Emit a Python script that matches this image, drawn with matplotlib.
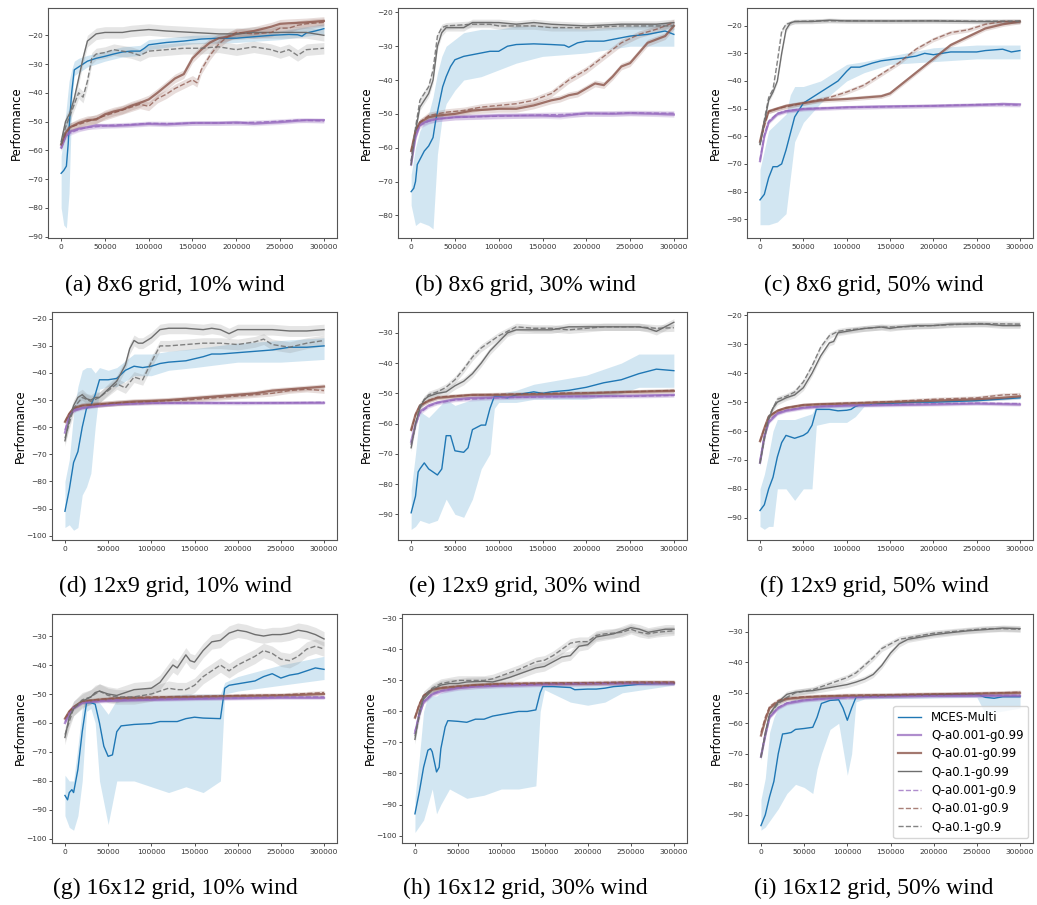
import matplotlib
matplotlib.use("Agg")
import matplotlib.pyplot as plt
from matplotlib.ticker import MultipleLocator

# ---- data: (step, value) pairs ----
# panel (a) 8x6 grid, 10% wind
a_mces = [(0, -68), (3000, -67), (6000, -65.5), (8000, -58), (10000, -48), (12000, -40), (15000, -32),
          (20000, -31), (30000, -29), (40000, -28), (50000, -27.3), (60000, -26.5), (70000, -25.8),
          (80000, -25.5), (90000, -25.5), (95000, -24.5), (100000, -23.3), (120000, -22.5), (140000, -22),
          (160000, -21.3), (180000, -21), (200000, -21), (220000, -20.5), (240000, -20), (260000, -19.7),
          (270000, -19.8), (275000, -20.3), (280000, -19.2), (290000, -18.5), (300000, -17.7)]
a_mces_band = [(0, -80, -62), (3000, -86, -55), (6000, -87, -45), (9000, -75, -36), (12000, -45, -32),
               (15000, -34, -29), (20000, -33, -28), (30000, -31, -27), (50000, -29, -25.5),
               (70000, -27.5, -24), (90000, -27, -23.5), (100000, -25, -21.5), (150000, -23, -20),
               (200000, -22.5, -19.5), (250000, -21.5, -18.5), (300000, -19.5, -16)]
a_q001_99 = [(0, -59), (5000, -55), (10000, -53.5), (20000, -52.5), (30000, -52), (40000, -51.3), (60000, -51.5),
             (80000, -51.2), (100000, -50.8), (120000, -51), (150000, -50.5), (180000, -50.5), (200000, -50.3),
             (220000, -50.7), (250000, -50.2), (270000, -49.7), (280000, -49.5), (300000, -49.5)]
a_q01_99 = [(0, -58), (5000, -54), (10000, -52), (20000, -50.5), (30000, -49.5), (40000, -49.3), (50000, -47.5),
            (60000, -46.5), (70000, -45.8), (80000, -44.5), (90000, -43.5), (100000, -42.3), (110000, -40),
            (120000, -37.5), (130000, -35), (140000, -33.5), (150000, -28), (160000, -25), (170000, -22.5),
            (180000, -21), (190000, -20.5), (200000, -19.5), (220000, -18.5), (240000, -17), (250000, -16),
            (260000, -15.8), (280000, -15.5), (300000, -15)]
a_q1_99 = [(0, -57), (5000, -50), (10000, -47), (15000, -42), (20000, -35), (25000, -28), (30000, -22),
           (40000, -19.5), (50000, -19), (70000, -19), (80000, -18.5), (100000, -18), (120000, -18.5),
           (150000, -19), (180000, -19.5), (200000, -19.5), (220000, -19), (250000, -19), (280000, -19),
           (300000, -20)]
a_q001_9 = [(0, -59.5), (5000, -55.5), (10000, -54), (20000, -52.8), (30000, -52), (40000, -51.8), (60000, -51.2),
            (80000, -51), (100000, -50.6), (130000, -50.7), (160000, -50.5), (200000, -50.5), (240000, -50),
            (270000, -49.5), (300000, -49.8)]
a_q01_9 = [(0, -58), (5000, -54), (10000, -52), (20000, -51), (30000, -50), (40000, -49), (50000, -48),
           (70000, -46), (90000, -44), (100000, -44.7), (110000, -42), (120000, -40.5), (130000, -38.5),
           (140000, -37), (150000, -35.5), (155000, -36.5), (160000, -32), (170000, -27), (180000, -23),
           (190000, -20.5), (200000, -19), (220000, -19.5), (240000, -19), (250000, -17.5), (260000, -17.5),
           (270000, -16.5), (280000, -16), (300000, -15.5)]
a_q1_9 = [(0, -58), (5000, -52), (10000, -48), (15000, -44), (20000, -40), (25000, -41.5), (30000, -36),
          (35000, -28), (40000, -26.5), (50000, -26), (60000, -25), (70000, -25.5), (80000, -26), (90000, -27),
          (100000, -25.5), (120000, -25), (140000, -24.5), (160000, -24.5), (180000, -24), (200000, -25),
          (220000, -24), (240000, -25), (250000, -26), (260000, -25), (270000, -27), (280000, -25),
          (300000, -24.5)]

# panel (b) 8x6 grid, 30% wind
b_mces = [(0, -73), (3000, -72), (5000, -70), (7000, -65), (10000, -63.5), (15000, -61), (20000, -59.5),
          (25000, -57), (28000, -52), (32000, -47), (36000, -42), (40000, -39), (45000, -36), (50000, -34),
          (60000, -33), (70000, -32.5), (80000, -32), (90000, -31.5), (100000, -31.5), (110000, -30),
          (120000, -29.5), (140000, -29.3), (160000, -29.5), (175000, -29.7), (180000, -30.3), (190000, -29),
          (200000, -28.5), (220000, -28.5), (240000, -27.5), (250000, -27), (270000, -26.5), (280000, -26),
          (290000, -25.5), (300000, -26.5)]
b_mces_band = [(0, -77, -68), (5000, -83, -60), (10000, -82, -55), (20000, -83, -50), (25000, -84, -45),
               (30000, -62, -38), (35000, -52, -33), (40000, -47, -30), (50000, -43, -28), (60000, -40, -26),
               (80000, -39, -25), (100000, -37, -25), (120000, -35, -24), (150000, -33, -24),
               (200000, -32, -25), (250000, -30, -24), (300000, -30, -23)]
b_q001_99 = [(0, -65), (3000, -60), (5000, -57), (10000, -53), (20000, -52), (30000, -51.5), (50000, -51),
             (70000, -50.8), (100000, -50.5), (150000, -50.5), (170000, -50.7), (200000, -49.8), (230000, -50),
             (250000, -49.8), (280000, -50), (300000, -50.2)]
b_q01_99 = [(0, -61), (5000, -55), (10000, -52.5), (20000, -51), (30000, -50.5), (50000, -50), (70000, -49),
            (100000, -48.5), (120000, -48.5), (140000, -47.5), (160000, -46), (170000, -45.5), (180000, -44.5),
            (190000, -44), (200000, -42.5), (210000, -41), (220000, -41.5), (230000, -39), (240000, -36),
            (250000, -35), (260000, -32), (270000, -29), (280000, -28), (290000, -27), (300000, -24)]
b_q1_99 = [(0, -65), (5000, -55), (10000, -48), (15000, -46), (20000, -44), (25000, -40), (30000, -30),
           (35000, -26), (40000, -24.5), (60000, -24.5), (70000, -23), (100000, -23), (120000, -23.5),
           (140000, -23), (160000, -23.5), (200000, -24), (240000, -23.5), (280000, -23.5), (300000, -23)]
b_q001_9 = [(0, -64), (5000, -56), (10000, -53.5), (20000, -52.2), (30000, -51.5), (50000, -51), (100000, -50.7),
            (150000, -50.3), (200000, -50), (250000, -49.7), (300000, -49.8)]
b_q01_9 = [(0, -61), (5000, -55), (10000, -52.5), (20000, -50.5), (40000, -49.5), (60000, -49), (80000, -48),
           (100000, -47.5), (120000, -47), (140000, -46), (160000, -44), (180000, -40), (200000, -37),
           (220000, -33), (240000, -29), (260000, -26.5), (280000, -25), (300000, -23)]
b_q1_9 = [(0, -64), (5000, -54), (10000, -46), (20000, -42), (25000, -37), (30000, -27), (35000, -24.5),
          (40000, -24), (70000, -23.5), (90000, -23.5), (100000, -24), (140000, -24), (160000, -24.5),
          (200000, -24.5), (240000, -24), (300000, -24)]

# panel (c) 8x6 grid, 50% wind
c_mces = [(0, -83), (5000, -81), (10000, -75), (15000, -71), (20000, -71), (25000, -70), (30000, -65),
          (35000, -59), (40000, -53), (50000, -48), (60000, -46), (70000, -44), (80000, -42), (90000, -40),
          (100000, -36.5), (105000, -35), (115000, -35), (130000, -33.5), (140000, -32.7), (150000, -32.3),
          (170000, -31.5), (180000, -31), (190000, -30), (200000, -30.5), (220000, -29.5), (250000, -29.5),
          (260000, -29), (280000, -28.5), (290000, -29.5), (300000, -29)]
c_mces_band = [(0, -92, -72), (10000, -92, -58), (20000, -91, -55), (30000, -88, -52), (35000, -75, -45),
               (40000, -62, -42), (50000, -55, -42), (70000, -48, -40), (100000, -40, -34), (120000, -37, -33),
               (150000, -34, -31), (200000, -33, -28), (250000, -32, -27), (300000, -32, -27)]
c_q001_99 = [(0, -69), (5000, -60), (10000, -55), (20000, -52), (30000, -51), (50000, -50.2), (80000, -49.8),
             (100000, -49.5), (150000, -49.2), (200000, -49), (250000, -48.7), (280000, -48.3), (300000, -48.5)]
c_q01_99 = [(0, -62), (5000, -55), (10000, -51), (20000, -50), (30000, -49), (50000, -48), (70000, -47),
            (100000, -46.5), (120000, -46), (140000, -45.5), (150000, -44.5), (160000, -42), (170000, -39.5),
            (180000, -37), (190000, -34.5), (200000, -32), (210000, -29.5), (220000, -27), (240000, -24),
            (260000, -21), (280000, -19.5), (300000, -18.5)]
c_q1_99 = [(0, -63), (5000, -55), (10000, -47), (15000, -44), (20000, -40), (25000, -30), (30000, -21.5),
           (35000, -19), (40000, -18.5), (60000, -18.5), (80000, -18), (100000, -18.3), (150000, -18.3),
           (200000, -18.3), (250000, -18.5), (300000, -18.5)]
c_q001_9 = [(0, -68.5), (5000, -59.5), (10000, -54.5), (20000, -51.7), (30000, -50.8), (50000, -50),
            (100000, -49.6), (150000, -49.3), (200000, -49), (250000, -48.5), (300000, -48.7)]
c_q01_9 = [(0, -62), (10000, -51), (20000, -50), (50000, -48), (80000, -46), (100000, -44), (120000, -41.5),
           (140000, -37.5), (160000, -33.5), (180000, -28.5), (200000, -25), (220000, -22.5), (240000, -21.5),
           (260000, -19.5), (280000, -18.5), (300000, -18.5)]
c_q1_9 = [(0, -63), (5000, -54), (10000, -46), (15000, -43), (20000, -33), (25000, -22), (30000, -19.5),
          (40000, -18.5), (60000, -18.3), (100000, -18.2), (150000, -18.3), (200000, -18.2), (250000, -18.4),
          (300000, -18.3)]

# panel (d) 12x9 grid, 10% wind
d_mces = [(0, -91), (5000, -83), (10000, -73), (15000, -69), (20000, -60), (25000, -53), (30000, -52),
          (35000, -48), (40000, -42.5), (50000, -42.5), (60000, -42), (70000, -39), (80000, -37.5),
          (90000, -38), (100000, -37.5), (110000, -36.5), (120000, -36), (140000, -35.5), (160000, -34),
          (170000, -33), (180000, -33), (200000, -32.5), (220000, -32), (240000, -31.5), (260000, -30.5),
          (280000, -30.5), (300000, -30)]
d_mces_band = [(0, -97, -80), (5000, -96, -72), (10000, -98, -55), (15000, -97, -45), (20000, -85, -39),
               (25000, -82, -38), (30000, -77, -38), (35000, -60, -40), (40000, -46, -38), (50000, -45, -39),
               (60000, -45, -38), (80000, -41, -33), (100000, -41, -33), (120000, -39, -32), (150000, -38, -31),
               (200000, -36, -29), (250000, -36, -28), (300000, -35, -27)]
d_q001_99 = [(0, -62), (5000, -56), (10000, -54), (20000, -53), (40000, -52), (60000, -51.5), (100000, -51),
             (150000, -51), (200000, -51), (250000, -51), (300000, -51)]
d_q01_99 = [(0, -58), (5000, -55), (10000, -53), (20000, -52), (40000, -51.5), (60000, -51), (80000, -50.5),
            (100000, -50.3), (120000, -50), (140000, -49.5), (160000, -49), (180000, -48.5), (200000, -48),
            (220000, -47.5), (240000, -46.5), (260000, -46), (280000, -45.5), (300000, -45)]
d_q1_99 = [(0, -65), (5000, -57), (10000, -52), (15000, -49), (20000, -48), (25000, -49.5), (30000, -50),
           (35000, -49), (40000, -49), (50000, -46), (60000, -43), (70000, -37), (75000, -31), (80000, -28),
           (85000, -29), (90000, -29), (100000, -27), (110000, -24), (120000, -23.5), (140000, -23.5),
           (160000, -24), (170000, -23.5), (180000, -24), (190000, -25.5), (200000, -24), (220000, -24),
           (240000, -24), (260000, -24.5), (280000, -24.5), (300000, -24)]
d_q001_9 = [(0, -61), (5000, -55.5), (10000, -53.5), (20000, -52.7), (40000, -52), (60000, -51.5),
            (100000, -51.2), (150000, -51), (200000, -51.2), (250000, -51), (300000, -50.8)]
d_q01_9 = [(0, -58), (5000, -55), (10000, -53), (20000, -52), (40000, -51.5), (60000, -51), (80000, -50.7),
           (100000, -50.5), (120000, -50.2), (140000, -50), (160000, -49.5), (180000, -49), (200000, -48.5),
           (220000, -48), (240000, -47.5), (260000, -46.5), (280000, -46), (300000, -46.5)]
d_q1_9 = [(0, -64), (10000, -53), (20000, -49), (30000, -50.5), (40000, -49), (50000, -46.5), (60000, -44),
          (70000, -45.5), (80000, -41.5), (90000, -42.5), (100000, -36), (110000, -30), (120000, -30),
          (140000, -29.5), (160000, -29), (180000, -29), (200000, -29.5), (220000, -28.5), (230000, -27.5),
          (240000, -29.5), (260000, -30.5), (280000, -29), (300000, -28)]

# panel (e) 12x9 grid, 30% wind
e_mces = [(0, -89.5), (5000, -84), (8000, -76), (10000, -75), (15000, -73), (20000, -75), (25000, -76),
          (30000, -77), (35000, -75), (40000, -64), (45000, -64), (50000, -69), (60000, -69.5), (65000, -68),
          (70000, -62), (80000, -60.5), (85000, -60.5), (90000, -55), (95000, -51), (100000, -51),
          (110000, -51.5), (120000, -50.5), (130000, -50), (140000, -49.5), (150000, -50), (160000, -49.5),
          (180000, -49), (200000, -48), (220000, -46.5), (240000, -45.5), (250000, -44.5), (260000, -43.5),
          (280000, -42), (300000, -42.5)]
e_mces_band = [(0, -95, -82), (5000, -94, -70), (10000, -92, -56), (20000, -93, -58), (30000, -92, -55),
               (40000, -85, -52), (50000, -90, -54), (60000, -91, -53), (70000, -85, -52), (80000, -75, -51),
               (90000, -70, -51), (95000, -55, -50), (100000, -53, -50), (120000, -53, -49), (140000, -52, -47),
               (160000, -52, -46), (200000, -52, -44), (240000, -50, -40), (260000, -48, -37),
               (300000, -48, -37)]
e_q001_99 = [(0, -66), (5000, -60), (10000, -56), (20000, -54), (30000, -53), (50000, -52), (70000, -51.5),
             (100000, -51.3), (150000, -51), (200000, -51), (250000, -50.8), (300000, -50.5)]
e_q01_99 = [(0, -62), (5000, -57), (10000, -54), (20000, -52.5), (30000, -51.5), (50000, -51), (70000, -50.5),
            (100000, -50.5), (150000, -50.3), (200000, -50), (250000, -49.5), (300000, -49.2)]
e_q1_99 = [(0, -68), (5000, -60), (10000, -55), (15000, -52), (20000, -51), (30000, -50), (40000, -49.5),
           (50000, -47.5), (60000, -46), (70000, -43.5), (80000, -40), (90000, -36), (100000, -33),
           (110000, -30), (120000, -29), (140000, -29), (160000, -29), (180000, -28), (200000, -28),
           (220000, -28), (240000, -28), (260000, -28), (270000, -28.5), (280000, -29.5), (290000, -28),
           (300000, -26.5)]
e_q001_9 = [(0, -67), (5000, -60.5), (10000, -56.5), (20000, -54.3), (30000, -53.2), (50000, -52.2),
            (100000, -51.5), (150000, -51.2), (200000, -51), (250000, -51), (300000, -50.7)]
e_q01_9 = [(0, -62.5), (5000, -57), (10000, -54), (20000, -52.3), (30000, -51.3), (50000, -50.8),
           (100000, -50.3), (150000, -50), (200000, -49.8), (250000, -49.5), (300000, -49)]
e_q1_9 = [(0, -67), (10000, -54), (20000, -50.5), (30000, -49.5), (40000, -48), (50000, -45.5), (60000, -42),
          (70000, -38), (80000, -35), (90000, -33), (100000, -31), (110000, -29.5), (120000, -28),
          (140000, -28.5), (160000, -28.5), (180000, -29), (200000, -28.5), (220000, -28), (240000, -28),
          (260000, -28), (280000, -28.5), (300000, -28.3)]

# panel (f) 12x9 grid, 50% wind
f_mces = [(0, -87.5), (5000, -85.5), (10000, -80), (15000, -76), (20000, -69), (25000, -64), (30000, -61.5),
          (40000, -62.5), (50000, -61.5), (55000, -60.5), (60000, -58), (65000, -52.5), (70000, -52.5),
          (80000, -52.5), (90000, -53), (100000, -52.8), (105000, -52.5), (110000, -51.5), (115000, -51),
          (120000, -51), (140000, -50.5), (160000, -50.3), (180000, -50), (200000, -50), (250000, -49.5),
          (300000, -48.5)]
f_mces_band = [(0, -93, -80), (5000, -94, -75), (10000, -93, -68), (15000, -93, -60), (20000, -80, -56),
               (30000, -80, -56), (40000, -84, -56), (50000, -80, -55), (60000, -80, -54), (65000, -58, -51),
               (80000, -57, -51), (100000, -57, -51), (110000, -55, -50.5), (120000, -51.5, -50.5),
               (300000, -49, -48)]
f_q001_99 = [(0, -71), (5000, -62), (10000, -57), (20000, -54), (30000, -53), (50000, -52), (70000, -51.5),
             (100000, -51.2), (150000, -51), (200000, -50.8), (250000, -50.5), (300000, -50.8)]
f_q01_99 = [(0, -63.5), (5000, -59), (10000, -55), (20000, -53), (30000, -52), (50000, -51), (70000, -50.7),
            (100000, -50.5), (150000, -50), (200000, -49.5), (250000, -49), (280000, -48.5), (300000, -48)]
f_q1_99 = [(0, -71), (5000, -62), (10000, -56), (15000, -52), (20000, -50), (30000, -48.5), (40000, -47.5),
           (50000, -45), (60000, -40), (70000, -34), (80000, -29.5), (85000, -29), (90000, -26),
           (100000, -25.5), (120000, -24.5), (140000, -24), (150000, -24.5), (160000, -24), (180000, -23.5),
           (200000, -23.5), (220000, -23), (240000, -23), (260000, -23), (280000, -23.5), (300000, -23.5)]
f_q001_9 = [(0, -70), (5000, -61.5), (10000, -56.5), (20000, -53.7), (30000, -52.8), (50000, -51.8),
            (100000, -51), (150000, -50.8), (200000, -50.5), (250000, -50.3), (300000, -50.5)]
f_q01_9 = [(0, -63.5), (5000, -59), (10000, -55), (20000, -53), (30000, -52), (50000, -51), (100000, -50.3),
           (150000, -49.8), (200000, -49), (250000, -48.5), (280000, -47.5), (300000, -47.3)]
f_q1_9 = [(0, -71), (10000, -55), (20000, -49), (30000, -48), (40000, -46.5), (50000, -43), (60000, -37.5),
          (70000, -31), (80000, -27), (90000, -25.5), (100000, -25), (120000, -24.5), (140000, -24),
          (160000, -24), (200000, -23.5), (250000, -22.8), (300000, -23)]

# panel (g) 16x12 grid, 10% wind
g_mces = [(0, -85), (3000, -86.5), (5000, -84), (8000, -83), (10000, -84), (15000, -76), (20000, -63),
          (25000, -53), (30000, -53), (35000, -53.5), (40000, -60), (45000, -68), (50000, -71.5),
          (55000, -71), (60000, -63), (65000, -61), (80000, -60.5), (100000, -60.2), (110000, -59.5),
          (130000, -59.5), (140000, -58.5), (150000, -58), (160000, -58.3), (180000, -58.5), (185000, -48),
          (190000, -47), (200000, -46.5), (210000, -46), (220000, -45.5), (230000, -44), (240000, -43),
          (250000, -44.5), (260000, -43.5), (270000, -43), (280000, -42), (290000, -41), (300000, -41.5)]
g_mces_band = [(0, -92, -78), (5000, -96, -80), (10000, -97, -80), (15000, -92, -68), (20000, -80, -55),
               (25000, -56, -51), (30000, -55, -51.5), (35000, -60, -52), (40000, -80, -53),
               (50000, -95, -57), (60000, -80, -52), (80000, -80, -51), (100000, -82, -51),
               (120000, -84, -50.5), (140000, -82, -50), (160000, -84, -50), (180000, -80, -50),
               (185000, -50, -46), (200000, -49, -44), (250000, -47, -40), (300000, -45, -37)]
g_q001_99 = [(0, -60), (5000, -57), (10000, -55), (20000, -53), (40000, -52.5), (60000, -52.3),
             (100000, -52), (150000, -51.7), (200000, -51.5), (250000, -51.3), (300000, -51.3)]
g_q01_99 = [(0, -58.5), (5000, -56), (10000, -54.5), (20000, -52.5), (40000, -52), (60000, -51.5),
            (100000, -51.3), (150000, -51), (200000, -50.7), (250000, -50.5), (300000, -50)]
g_q1_99 = [(0, -65), (5000, -58), (10000, -55), (20000, -52.5), (30000, -51), (35000, -49.5), (40000, -49),
           (50000, -50), (60000, -50.5), (70000, -49.5), (80000, -48.5), (100000, -48), (110000, -46),
           (120000, -42), (125000, -40), (130000, -41), (140000, -36.5), (145000, -38.5), (150000, -39),
           (155000, -37), (160000, -35), (170000, -32), (180000, -31.5), (190000, -29), (200000, -28),
           (210000, -28.5), (220000, -29.5), (230000, -30), (240000, -29.5), (250000, -29.5), (260000, -29),
           (270000, -28), (280000, -28.5), (290000, -29.5), (300000, -31)]
g_q001_9 = [(0, -59.5), (5000, -56.5), (10000, -54.5), (20000, -53), (40000, -52.3), (60000, -52),
            (100000, -51.8), (150000, -51.5), (200000, -51.3), (250000, -51), (300000, -51)]
g_q01_9 = [(0, -58.5), (5000, -56), (10000, -54.5), (20000, -52.5), (40000, -51.8), (60000, -51.3),
           (100000, -51), (150000, -50.8), (200000, -50.5), (250000, -50.3), (300000, -49.5)]
g_q1_9 = [(0, -64), (10000, -55), (20000, -52), (30000, -51), (40000, -49), (50000, -50.5), (60000, -51),
          (80000, -51), (100000, -50), (120000, -48), (130000, -48.5), (140000, -48.5), (150000, -47),
          (160000, -44), (170000, -42), (180000, -40), (190000, -42), (200000, -40), (210000, -38.5),
          (220000, -37), (230000, -35), (240000, -36), (250000, -38), (260000, -38.5), (270000, -37),
          (280000, -34.5), (290000, -33.5), (300000, -34.5)]

# panel (h) 16x12 grid, 30% wind
h_mces = [(0, -93), (5000, -86), (10000, -78), (15000, -72.5), (18000, -72), (20000, -73), (25000, -79.5),
          (28000, -78), (30000, -72), (35000, -65), (38000, -63), (40000, -63), (50000, -63.2),
          (60000, -63.5), (70000, -62.5), (80000, -62.5), (90000, -61.5), (100000, -61), (110000, -60.5),
          (120000, -60), (130000, -60), (140000, -59.5), (145000, -54), (148000, -52), (160000, -52),
          (180000, -52.3), (185000, -53), (200000, -52.8), (210000, -52.8), (220000, -52.5), (230000, -52),
          (240000, -51.8), (260000, -51.2), (280000, -51), (300000, -51)]
h_mces_band = [(0, -99, -88), (5000, -97, -75), (10000, -95, -60), (15000, -90, -55), (20000, -85, -55),
               (25000, -93, -55), (30000, -90, -54), (40000, -85, -53), (60000, -88, -52.5),
               (80000, -87, -52), (100000, -85, -51.5), (120000, -85, -51.5), (140000, -84, -51.5),
               (145000, -60, -51.5), (150000, -53, -51.5), (180000, -57, -51.5), (200000, -58, -51.5),
               (220000, -57, -51.5), (240000, -54, -51), (300000, -51.5, -50.5)]
h_q001_99 = [(0, -67), (5000, -61), (10000, -57), (20000, -54.5), (30000, -53.5), (50000, -52.5),
             (70000, -52), (100000, -51.7), (150000, -51.3), (200000, -51), (250000, -51), (300000, -51)]
h_q01_99 = [(0, -62), (5000, -58), (10000, -55), (20000, -53), (30000, -52.5), (50000, -52), (70000, -51.5),
            (100000, -51.2), (150000, -51), (200000, -51), (250000, -50.7), (300000, -50.7)]
h_q1_99 = [(0, -69), (5000, -60), (10000, -56), (20000, -53), (30000, -51.5), (40000, -51), (50000, -51),
           (60000, -50.5), (80000, -50.3), (90000, -50.5), (100000, -49.8), (110000, -49), (120000, -48),
           (130000, -47), (140000, -46), (150000, -45.5), (160000, -44), (170000, -42.5), (180000, -42),
           (190000, -39), (200000, -38.5), (210000, -36), (220000, -35.5), (230000, -35), (240000, -34),
           (250000, -33), (260000, -33.5), (270000, -34.5), (280000, -34), (290000, -33.5), (300000, -33.5)]
h_q001_9 = [(0, -66.5), (5000, -60.5), (10000, -56.8), (20000, -54.3), (30000, -53.3), (50000, -52.3),
            (100000, -51.5), (150000, -51.2), (200000, -51), (250000, -50.8), (300000, -50.8)]
h_q01_9 = [(0, -62), (5000, -57.5), (10000, -54.8), (20000, -53), (30000, -52.3), (50000, -51.8),
           (100000, -51), (150000, -50.8), (200000, -50.7), (250000, -50.5), (300000, -50.5)]
h_q1_9 = [(0, -68), (10000, -55), (20000, -52.5), (30000, -51), (40000, -50.5), (50000, -50), (80000, -50),
          (90000, -49.5), (100000, -48.5), (120000, -46.5), (140000, -44), (150000, -43.5), (160000, -42),
          (170000, -40), (180000, -38), (190000, -37.5), (200000, -37.5), (210000, -35.5), (220000, -35),
          (240000, -34.5), (250000, -33.5), (260000, -34.5), (270000, -35), (280000, -34.5), (300000, -34)]

# panel (i) 16x12 grid, 50% wind
i_mces = [(0, -93.5), (5000, -90), (10000, -84), (15000, -79), (20000, -70), (25000, -63.5), (30000, -63.3),
          (35000, -63), (40000, -62), (50000, -61.7), (60000, -61.3), (65000, -58), (70000, -53.5),
          (80000, -52.5), (90000, -52.3), (95000, -55), (100000, -59), (105000, -55), (110000, -51.5),
          (120000, -51.3), (150000, -51), (200000, -50.7), (250000, -50.5), (260000, -51.5), (270000, -51.8),
          (280000, -51.3), (300000, -51.3)]
i_mces_band = [(0, -95, -85), (5000, -94, -78), (10000, -92, -63), (15000, -90, -58), (20000, -88, -55),
               (30000, -83, -53), (40000, -80, -52), (50000, -81, -52), (60000, -83, -52), (65000, -75, -51),
               (70000, -70, -51), (80000, -62, -51), (90000, -60, -51), (100000, -77, -52),
               (105000, -70, -51), (110000, -53, -51), (120000, -52, -50.5), (250000, -51.5, -50),
               (260000, -57, -50.5), (280000, -56, -50.5), (300000, -55, -50.5)]
i_q001_99 = [(0, -71), (5000, -64), (10000, -58), (20000, -55), (30000, -53.5), (50000, -52.5), (70000, -52),
             (100000, -51.5), (150000, -51.2), (200000, -51), (250000, -51), (300000, -51)]
i_q01_99 = [(0, -64), (5000, -59), (10000, -55), (20000, -53), (30000, -52), (50000, -51.5), (70000, -51.2),
            (100000, -51), (150000, -50.8), (200000, -50.5), (250000, -50.3), (300000, -50)]
i_q1_99 = [(0, -71), (5000, -63), (10000, -57), (20000, -53), (30000, -50.5), (40000, -49.8), (50000, -49.5),
           (60000, -49.3), (70000, -48.8), (80000, -48.3), (90000, -47.8), (100000, -47.3), (110000, -46.5),
           (120000, -45.5), (130000, -44), (140000, -41), (150000, -37), (160000, -34), (170000, -32.5),
           (180000, -32), (200000, -31), (220000, -30.3), (240000, -29.7), (260000, -29.3), (280000, -28.8),
           (300000, -29)]
i_q001_9 = [(0, -70.5), (5000, -63.5), (10000, -57.8), (20000, -54.8), (30000, -53.3), (50000, -52.3),
            (100000, -51.5), (150000, -51.2), (200000, -51), (250000, -50.8), (300000, -50.8)]
i_q01_9 = [(0, -63), (5000, -58), (10000, -54.5), (20000, -52.5), (30000, -51.8), (50000, -51.3),
           (100000, -50.8), (150000, -50.6), (200000, -50.4), (250000, -50.2), (300000, -49.8)]
i_q1_9 = [(0, -71), (10000, -57), (20000, -53.5), (30000, -51.5), (40000, -50), (50000, -49.5), (60000, -49),
          (70000, -48), (80000, -47), (90000, -46), (100000, -45), (110000, -43.5), (120000, -41),
          (130000, -38.5), (140000, -35.5), (150000, -34), (160000, -32.5), (180000, -31.5), (200000, -30.5),
          (220000, -30), (240000, -29.5), (260000, -29), (280000, -29), (300000, -29.2)]

# run-to-run spread of the Q-learning curves (half-width of the shaded band)
purple_spread = [0.8, 0.8, 0.7, 0.6, 0.6, 0.6, 0.6, 0.7, 0.6]
brown_spread = [1.5, 1.0, 0.8, 1.0, 0.7, 0.7, 0.7, 0.7, 0.7]
gray_spread = [2.0, 1.0, 0.8, 2.0, 1.2, 1.0, 2.5, 1.5, 1.0]

captions = ["(a) 8x6 grid, 10% wind", "(b) 8x6 grid, 30% wind", "(c) 8x6 grid, 50% wind",
            "(d) 12x9 grid, 10% wind", "(e) 12x9 grid, 30% wind", "(f) 12x9 grid, 50% wind",
            "(g) 16x12 grid, 10% wind", "(h) 16x12 grid, 30% wind", "(i) 16x12 grid, 50% wind"]
labels = ["MCES-Multi", "Q-a0.001-g0.99", "Q-a0.01-g0.99", "Q-a0.1-g0.99",
          "Q-a0.001-g0.9", "Q-a0.01-g0.9", "Q-a0.1-g0.9"]

mces_runs = [a_mces, b_mces, c_mces, d_mces, e_mces, f_mces, g_mces, h_mces, i_mces]
mces_bands = [a_mces_band, b_mces_band, c_mces_band, d_mces_band, e_mces_band, f_mces_band,
              g_mces_band, h_mces_band, i_mces_band]
q_runs = [
    [a_q001_99, a_q01_99, a_q1_99, a_q001_9, a_q01_9, a_q1_9],
    [b_q001_99, b_q01_99, b_q1_99, b_q001_9, b_q01_9, b_q1_9],
    [c_q001_99, c_q01_99, c_q1_99, c_q001_9, c_q01_9, c_q1_9],
    [d_q001_99, d_q01_99, d_q1_99, d_q001_9, d_q01_9, d_q1_9],
    [e_q001_99, e_q01_99, e_q1_99, e_q001_9, e_q01_9, e_q1_9],
    [f_q001_99, f_q01_99, f_q1_99, f_q001_9, f_q01_9, f_q1_9],
    [g_q001_99, g_q01_99, g_q1_99, g_q001_9, g_q01_9, g_q1_9],
    [h_q001_99, h_q01_99, h_q1_99, h_q001_9, h_q01_9, h_q1_9],
    [i_q001_99, i_q01_99, i_q1_99, i_q001_9, i_q01_9, i_q1_9],
]

# ---- layout (pixels of a 1037x905 canvas) ----
W, H = 1037, 905
ylims = [(-90.5, -10.5), (-86.7, -18.7), (-96.8, -13.6),
         (-101.6, -17.5), (-98.5, -23.1), (-97.7, -18.8),
         (-101.4, -22.4), (-102.4, -28.6), (-99.2, -24.2)]
lefts = [48, 398, 747, 52, 398, 747, 52, 402, 748]
rights = [337, 687, 1033]
rows_y = [(8, 238), (312, 540), (614, 843)]
cap_x = [175, 525, 874]
cap_y = [285, 586, 888]

q_colors = ["#9467bd", "#8c564b", "#7f7f7f"]
q_styles = [
    dict(color="#9467bd", lw=1.6, alpha=0.75, ls="-"),
    dict(color="#8c564b", lw=1.6, alpha=0.8, ls="-"),
    dict(color="#6e6e6e", lw=1.0, alpha=1.0, ls="-"),
    dict(color="#9467bd", lw=1.0, alpha=0.75, ls="--"),
    dict(color="#8c564b", lw=1.0, alpha=0.75, ls="--"),
    dict(color="#6e6e6e", lw=1.0, alpha=0.85, ls="--"),
]

fig = plt.figure(figsize=(W / 100, H / 100), dpi=100)

for k in range(9):
    r, c = divmod(k, 3)
    top, bot = rows_y[r]
    left, right = lefts[k], rights[c]
    ax = fig.add_axes([left / W, 1 - bot / H, (right - left) / W, (bot - top) / H])

    # MCES band + mean
    bx = [p[0] for p in mces_bands[k]]
    ax.fill_between(bx, [p[1] for p in mces_bands[k]], [p[2] for p in mces_bands[k]],
                    color="#6baed6", alpha=0.3, lw=0)
    ax.plot([p[0] for p in mces_runs[k]], [p[1] for p in mces_runs[k]], color="#1f77b4", lw=1.0,
            label=labels[0])

    spreads = [purple_spread[k], brown_spread[k], gray_spread[k]]
    for j, run in enumerate(q_runs[k]):
        xs = [p[0] for p in run]
        ys = [p[1] for p in run]
        s = spreads[j % 3]
        ax.fill_between(xs, [y - s for y in ys], [y + s for y in ys], color=q_colors[j % 3],
                        alpha=0.2, lw=0)
        ax.plot(xs, ys, label=labels[j + 1], **q_styles[j])

    ax.set_xlim(-15000, 315000)
    ax.set_ylim(*ylims[k])
    ax.xaxis.set_major_locator(MultipleLocator(50000))
    ax.yaxis.set_major_locator(MultipleLocator(10))
    ax.tick_params(labelsize=5.4, length=2.5, width=0.6, pad=1.5, colors="#333333")
    for sp in ax.spines.values():
        sp.set_color("#555555")
        sp.set_linewidth(0.8)
    ax.set_ylabel("Performance", fontsize=8.4)
    ax.yaxis.set_label_coords(-25 / (right - left), 0.5)

    fig.text(cap_x[c] / W, 1 - cap_y[r] / H, captions[k], ha="center", va="center",
             family="Liberation Serif", fontsize=17)

    if k == 8:
        ax.legend(loc="lower right", fontsize=8.5, handlelength=2.0, borderaxespad=0.4,
                  labelspacing=0.45)

fig.savefig("out.png", dpi=100)
